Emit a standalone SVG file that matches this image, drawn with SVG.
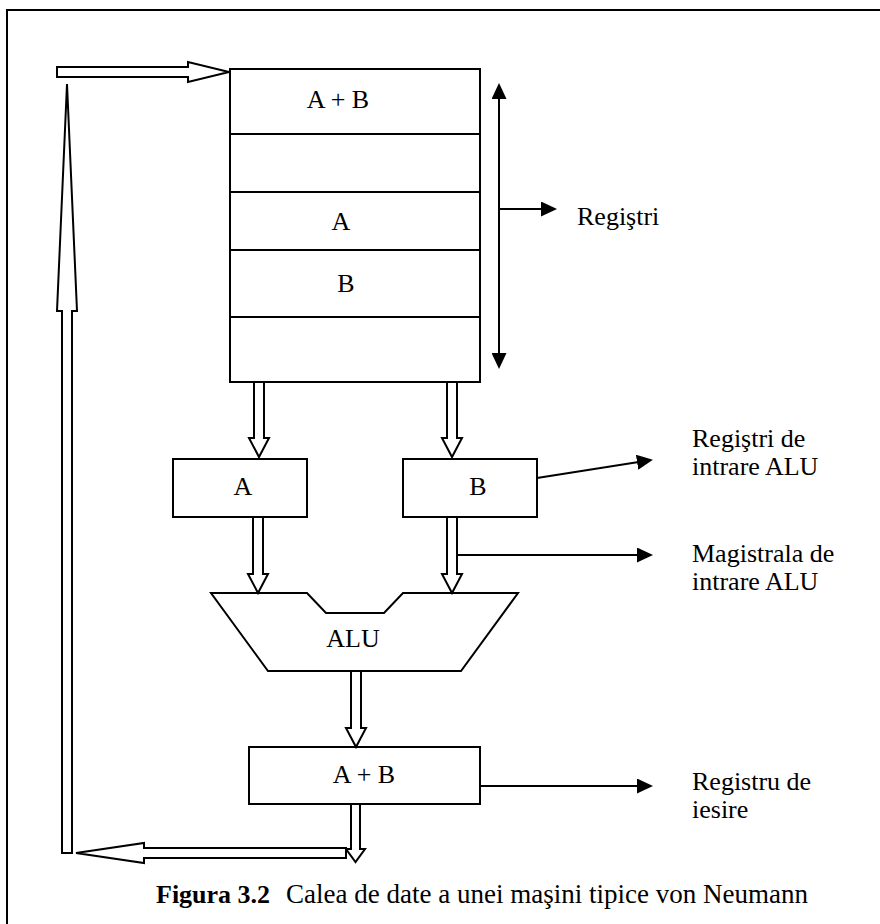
<svg xmlns="http://www.w3.org/2000/svg" width="880" height="924" viewBox="0 0 880 924">
<style>
.box{fill:#fff;stroke:#000;stroke-width:2}
.ha{fill:#fff;stroke:#000;stroke-width:2;stroke-linejoin:miter}
.ln{fill:none;stroke:#000;stroke-width:2}
text{font-family:"Liberation Serif","Times New Roman",serif;font-size:26px;fill:#000}
.c{text-anchor:middle}
</style>
<defs>
<marker id="ah" viewBox="0 0 16 15" refX="8" refY="7.5" markerWidth="16" markerHeight="15" markerUnits="userSpaceOnUse" orient="auto-start-reverse">
<path d="M0,0 L16,7.5 L0,15 z" fill="#000"/>
</marker>
</defs>
<rect x="7" y="10" width="900" height="940" fill="none" stroke="#000" stroke-width="2"/>

<g id="registers">
<rect class="box" x="230" y="69" width="250" height="313"/>
<line class="ln" x1="230" y1="134" x2="480" y2="134"/>
<line class="ln" x1="230" y1="192" x2="480" y2="192"/>
<line class="ln" x1="230" y1="250" x2="480" y2="250"/>
<line class="ln" x1="230" y1="317" x2="480" y2="317"/>
<text class="c" x="338" y="108">A + B</text>
<text class="c" x="341" y="230">A</text>
<text class="c" x="346" y="292">B</text>
</g>

<g id="regA">
<rect class="box" x="173" y="459" width="134" height="58"/>
<text class="c" x="243" y="495">A</text>
</g>
<g id="regB">
<rect class="box" x="403" y="459" width="134" height="58"/>
<text class="c" x="478" y="495">B</text>
</g>
<g id="alu">
<polygon class="box" points="211,593 307,593 326,613 384,613 403,593 518,593 461,671 268,671"/>
<text class="c" x="353" y="647">ALU</text>
</g>
<g id="regOut">
<rect class="box" x="249" y="747" width="231" height="57"/>
<text class="c" x="364" y="783">A + B</text>
</g>

<g id="lbl-registri"><text x="577" y="225">Regiştri</text></g>
<g id="lbl-intrare"><text x="692" y="447">Regiştri de</text><text x="692" y="475">intrare ALU</text></g>
<g id="lbl-magistrala"><text x="692" y="562">Magistrala de</text><text x="692" y="590">intrare ALU</text></g>
<g id="lbl-iesire"><text x="692" y="790">Registru de</text><text x="692" y="818">iesire</text></g>
<g id="caption"><text x="156" y="903"><tspan font-weight="bold">Figura 3.2</tspan><tspan dx="16" font-size="27">Calea de date a unei maşini tipice von Neumann</tspan></text></g>

<g id="connectors">
<polygon class="ha" points="57,67 188,67 188,62 229,72 188,82 188,77 57,77"/>
<polygon class="ha" points="62,853 62,311 57,311 67,84 77,311 72,311 72,853"/>
<polygon class="ha" points="346,848 144,848 144,843 76,853 144,863 144,858 346,858"/>
<polygon class="ha" points="254,382 254,438 249,438 259,457 269,438 264,438 264,382"/>
<polygon class="ha" points="447,382 447,438 442,438 452,457 462,438 457,438 457,382"/>
<polygon class="ha" points="253,517 253,574 248,574 258,593 268,574 263,574 263,517"/>
<polygon class="ha" points="447,517 447,574 442,574 452,593 462,574 457,574 457,517"/>
<polygon class="ha" points="351,671 351,728 346,728 356,747 366,728 361,728 361,671"/>
<polygon class="ha" points="351,804 351,849 346,849 355.5,862 365,849 360,849 360,804"/>
<line class="ln" x1="499" y1="91" x2="499" y2="361" marker-start="url(#ah)" marker-end="url(#ah)"/>
<line class="ln" x1="499" y1="209" x2="549" y2="209" marker-end="url(#ah)"/>
<line class="ln" x1="537" y1="478" x2="645" y2="461" marker-end="url(#ah)"/>
<line class="ln" x1="457" y1="555" x2="645" y2="555" marker-end="url(#ah)"/>
<line class="ln" x1="480" y1="786" x2="645" y2="786" marker-end="url(#ah)"/>
</g>
</svg>
